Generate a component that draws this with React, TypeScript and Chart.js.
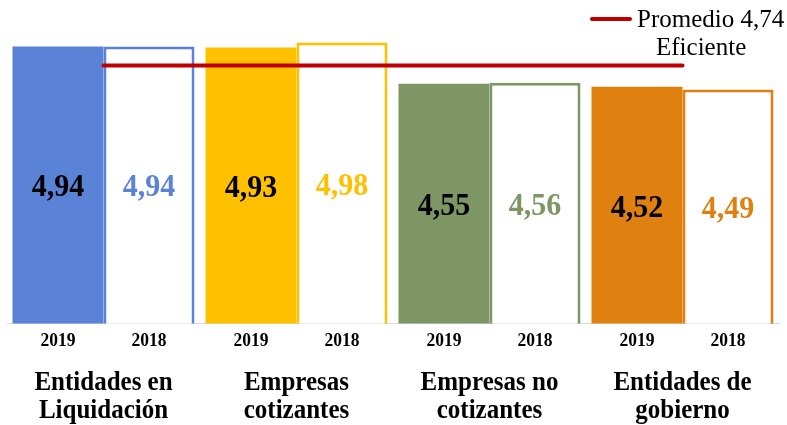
import { useEffect, useRef } from "react";
import { Chart, registerables } from "chart.js";

Chart.register(...registerables);

const categories: string[][] = [
  ["Entidades en", "Liquidación"],
  ["Empresas", "cotizantes"],
  ["Empresas no", "cotizantes"],
  ["Entidades de", "gobierno"],
];
const values2019 = [4.94, 4.93, 4.55, 4.52];
const values2018 = [4.94, 4.98, 4.56, 4.49];
const averageSeries = [4.74, 4.74, 4.74, 4.74];
const yearLabels = ["2019", "2018"];
const legendLines = ["Promedio 4,74", "Eficiente"];
const groupColors = ["#5A82D7", "#FFC000", "#7E9664", "#E08010"];
const averageColor = "#C00000";

const SERIF = '"Liberation Serif", "Times New Roman", serif';

function fmt(v: number) {
  return v.toFixed(2).replace(".", ",");
}

function drawText(
  ctx: CanvasRenderingContext2D,
  text: string,
  x: number,
  y: number,
  font: string,
  color: string,
  align: CanvasTextAlign,
  sy: number
) {
  ctx.save();
  ctx.translate(x, y);
  ctx.scale(1, sy);
  ctx.font = font;
  ctx.fillStyle = color;
  ctx.textAlign = align;
  ctx.textBaseline = "alphabetic";
  ctx.fillText(text, 0, 0);
  ctx.restore();
}

const labelsPlugin = {
  id: "customLabels",
  afterDatasetsDraw(chart: any) {
    const ctx: CanvasRenderingContext2D = chart.ctx;
    const xScale = chart.scales.x;
    const area = chart.chartArea;
    // value labels + year labels (bar datasets are index 1 and 2)
    [1, 2].forEach((di, k) => {
      const meta = chart.getDatasetMeta(di);
      const data = chart.data.datasets[di].data as number[];
      meta.data.forEach((bar: any, i: number) => {
        const mid = (bar.y + area.bottom) / 2;
        const color = k === 0 ? "#000000" : groupColors[i];
        drawText(ctx, fmt(data[i]), bar.x, mid + 11.5, `bold 30px ${SERIF}`, color, "center", 1.05);
        drawText(ctx, yearLabels[k], bar.x, area.bottom + 22.5, `bold 17.5px ${SERIF}`, "#000000", "center", 1.12);
      });
    });
    // category labels
    categories.forEach((lines, i) => {
      const cx = xScale.getPixelForValue(i);
      lines.forEach((ln, li) => {
        drawText(ctx, ln, cx, area.bottom + 66.5 + li * 28, `bold 25px ${SERIF}`, "#000000", "center", 1.12);
      });
    });
    // legend
    ctx.save();
    ctx.strokeStyle = averageColor;
    ctx.lineWidth = 4;
    ctx.lineCap = "round";
    ctx.beginPath();
    ctx.moveTo(592, 19);
    ctx.lineTo(630, 19);
    ctx.stroke();
    ctx.restore();
    drawText(ctx, legendLines[0], 637, 26.7, `25px ${SERIF}`, "#000000", "left", 1.05);
    drawText(ctx, legendLines[1], 656, 55, `25px ${SERIF}`, "#000000", "left", 1.05);
  },
};

export default function App() {
  const ref = useRef<HTMLCanvasElement | null>(null);
  useEffect(() => {
    if (!ref.current) return;
    const chart = new Chart(ref.current, {
      type: "bar",
      data: {
        labels: categories.map((c) => c.join(" ")),
        datasets: [
          {
            type: "line",
            label: legendLines.join(" "),
            data: averageSeries,
            borderColor: averageColor,
            borderWidth: 4,
            borderCapStyle: "round",
            pointRadius: 0,
            fill: false,
            order: 0,
          } as any,
          {
            label: yearLabels[0],
            data: values2019,
            backgroundColor: groupColors,
            borderWidth: 0,
            order: 1,
            categoryPercentage: 0.943,
            barPercentage: 1,
          },
          {
            label: yearLabels[1],
            data: values2018,
            backgroundColor: "#FFFFFF",
            borderColor: groupColors,
            borderWidth: 3,
            order: 1,
            categoryPercentage: 0.943,
            barPercentage: 1,
          },
        ],
      },
      options: {
        animation: false,
        responsive: false,
        events: [],
        layout: { padding: { left: 7, right: 8, top: 10, bottom: 101.5 } },
        plugins: { legend: { display: false }, tooltip: { enabled: false } },
        scales: {
          x: {
            grid: { display: false, drawTicks: false },
            ticks: { display: false },
            border: { display: true, color: "#D9D9D9", width: 1 },
          },
          y: {
            display: false,
            min: 2.05,
            max: 5.32,
          },
        },
      },
      plugins: [labelsPlugin],
    });
    return () => chart.destroy();
  }, []);
  return (
    <div style={{ position: "fixed", left: 0, top: 0, width: 787, height: 425, background: "#fff" }}>
      <canvas ref={ref} width={787} height={425} />
    </div>
  );
}
